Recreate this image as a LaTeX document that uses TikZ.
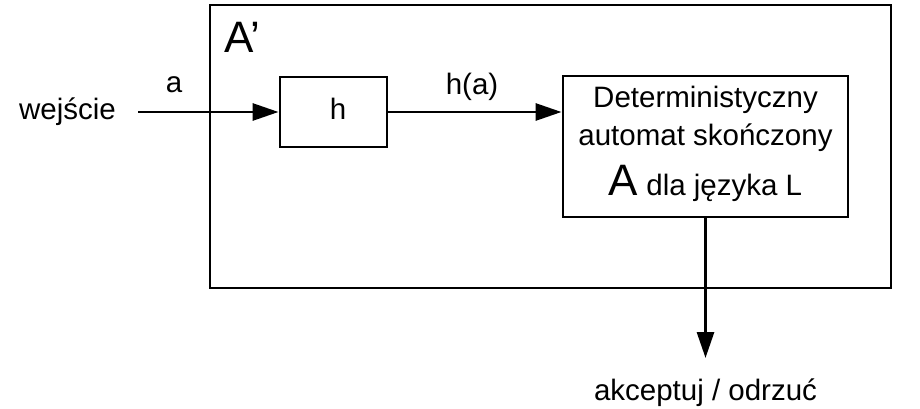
\documentclass[tikz,border=0pt]{standalone}
\usepackage{fontspec}
\setmainfont{Liberation Sans}
\usetikzlibrary{arrows.meta}
\begin{document}
\begin{tikzpicture}[x=1pt,y=-1pt,
  txt/.style={inner sep=0pt,font=\fontsize{29.5}{34}\selectfont},
  bigtxt/.style={inner sep=0pt,font=\fontsize{44}{50}\selectfont},
  box/.style={draw,line width=2.9pt,rectangle,inner sep=0pt},
  conn/.style={line width=2.9pt,-{Triangle[length=26pt,width=17pt]}}]
\useasboundingbox (0,0) rectangle (920,409);
\node[box,minimum width=681pt,minimum height=283pt] (outer) at (550.5,146.5) {};
\node[bigtxt,anchor=base west] (alabel) at (224,53) {A’};
\node[box,minimum width=107pt,minimum height=70pt] (h) at (333.5,112) {};
\node[txt,anchor=base] (htxt) at (338,120) {h};
\node[box,minimum width=285pt,minimum height=141pt] (dfa) at (705.5,146.5) {};
\node[txt,anchor=base] (l1) at (705.5,108) {Deterministyczny};
\node[txt,anchor=base] (l2) at (705.5,145) {automat skończony};
\node[txt,anchor=base] (l3) at (705.5,195) {{\fontsize{44}{50}\selectfont A} dla języka L};
\node[txt,anchor=base] (in) at (67.5,120) {wejście};
\coordinate (start) at (138,112);
\node[txt,anchor=base] (alab) at (174,93) {a};
\node[txt,anchor=base] (halab) at (472,95) {h(a)};
\coordinate (tip) at (705.5,358);
\node[txt,anchor=base] (out) at (705.5,400) {akceptuj / odrzuć};
\draw[conn] (start) -- (h.west);
\draw[conn] (h.east) -- (h.east -| dfa.west);
\draw[conn] (dfa.south) -- (tip);
\end{tikzpicture}
\end{document}
